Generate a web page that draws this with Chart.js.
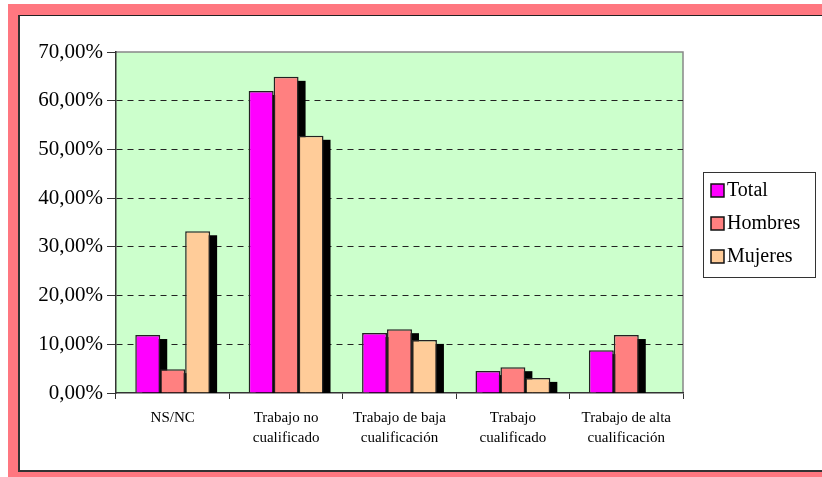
<!DOCTYPE html>
<html lang="es">

<head>
    <meta charset="UTF-8">
    <title>Cualificación</title>
    <style>
        body {
            margin: 0;
            width: 822px;
            height: 477px;
            overflow: hidden;
            background: #fff;
            position: relative;
        }

        #marco {
            position: absolute;
            left: 8px;
            top: 4px;
            right: 0;
            bottom: 0;
            background: #ff7780;
        }

        #hoja {
            position: absolute;
            left: 18px;
            top: 15px;
            right: 0;
            bottom: 5px;
            background: #fff;
            border-left: 2px solid #333;
            border-top: 1px solid #222;
            border-bottom: 2px solid #333;
        }

        canvas {
            position: absolute;
            left: 0;
            top: 0;
        }
    </style>
</head>

<body>
    <div id="marco"></div>
    <div id="hoja"></div>
    <canvas id="myChart" width="822" height="477"></canvas>

    <script src="https://cdn.jsdelivr.net/npm/chart.js"></script>

    <script>
        const categorias = [
            'NS/NC',
            ['Trabajo no', 'cualificado'],
            ['Trabajo de baja', 'cualificación'],
            ['Trabajo', 'cualificado'],
            ['Trabajo de alta', 'cualificación']
        ]
        const total = [11.9, 62.0, 12.3, 4.5, 8.8]
        const hombres = [4.9, 64.9, 13.1, 5.3, 11.9]
        const mujeres = [33.2, 52.8, 10.9, 3.1, 0]
        const ticksY = [0, 10, 20, 30, 40, 50, 60, 70]

        const fuente = 'Liberation Serif'

        // fondo verde del area de datos
        const fondo = {
            id: 'fondo',
            beforeDraw(chart) {
                const a = chart.chartArea, c = chart.ctx
                c.save()
                c.fillStyle = '#ccffcc'
                c.fillRect(a.left, a.top, a.right - a.left, a.bottom - a.top)
                c.strokeStyle = '#888'
                c.lineWidth = 1.5
                c.beginPath()
                c.moveTo(a.left, a.top)
                c.lineTo(a.right, a.top)
                c.lineTo(a.right, a.bottom)
                c.stroke()
                c.restore()
            }
        }

        // sombra negra detras de cada barra
        const sombra = {
            id: 'sombra',
            beforeDatasetsDraw(chart) {
                const a = chart.chartArea, c = chart.ctx
                c.save()
                c.beginPath()
                c.rect(a.left, a.top, a.right - a.left, a.bottom - a.top)
                c.clip()
                c.fillStyle = '#000'
                chart.data.datasets.forEach((ds, i) => {
                    chart.getDatasetMeta(i).data.forEach(bar => {
                        const h = bar.base - bar.y
                        if (h <= 0) return
                        c.fillRect(bar.x - bar.width / 2 + 7, bar.y + 4, bar.width, h)
                    })
                })
                c.restore()
            }
        }

        // leyenda con recuadro a la derecha
        const leyenda = {
            id: 'leyenda',
            afterDraw(chart) {
                const c = chart.ctx
                const x = chart.chartArea.right + 20, y = 172
                c.save()
                c.strokeStyle = '#333'
                c.lineWidth = 1
                c.strokeRect(x + 0.5, y + 0.5, 112, 105)
                c.font = '20px "' + fuente + '"'
                c.textBaseline = 'middle'
                chart.data.datasets.forEach((ds, i) => {
                    const cy = y + 19 + i * 33
                    c.fillStyle = ds.backgroundColor
                    c.fillRect(x + 8, cy - 7, 13, 13)
                    c.strokeStyle = '#111'
                    c.lineWidth = 1.5
                    c.strokeRect(x + 8, cy - 7, 13, 13)
                    c.fillStyle = '#000'
                    c.fillText(ds.label, x + 24, cy)
                })
                c.restore()
            }
        }

        const ctx = document.getElementById('myChart');
        myChart = new Chart(ctx, {
            type: 'bar',
            data: {
                labels: categorias,
                datasets: [
                    { label: 'Total', data: total, backgroundColor: '#ff00ff' },
                    { label: 'Hombres', data: hombres, backgroundColor: '#ff8080' },
                    { label: 'Mujeres', data: mujeres, backgroundColor: '#ffcc99' }
                ]
            },
            options: {
                responsive: false,
                animation: false,
                categoryPercentage: 0.66,
                barPercentage: 1,
                borderColor: '#222',
                borderWidth: 1.5,
                borderSkipped: 'bottom',
                layout: { padding: { left: 20, right: 139, top: 52, bottom: 0 } },
                plugins: {
                    legend: { display: false },
                    tooltip: { enabled: false }
                },
                scales: {
                    x: {
                        afterFit(s) { s.height = 84 },
                        grid: {
                            offset: true,
                            drawOnChartArea: false,
                            drawTicks: true,
                            tickLength: 6,
                            color: '#333'
                        },
                        border: { color: '#333', width: 1.5 },
                        ticks: {
                            color: '#000',
                            padding: 9,
                            maxRotation: 0,
                            autoSkip: false,
                            font: { family: fuente, size: 15, lineHeight: 1.33 }
                        }
                    },
                    y: {
                        min: 0,
                        max: 70,
                        afterFit(s) { s.width = 96 },
                        afterBuildTicks(s) { s.ticks = ticksY.map(v => ({ value: v })) },
                        grid: {
                            color: (c) => (c.tick && c.tick.value > 0 && c.tick.value < 70) ? '#222' : 'rgba(0,0,0,0)',
                            tickColor: '#333',
                            tickLength: 9,
                            lineWidth: 1
                        },
                        border: { color: '#333', width: 1.5, dash: [6, 5] },
                        ticks: {
                            color: '#000',
                            padding: 4,
                            font: { family: fuente, size: 21 },
                            callback: v => v.toFixed(2).replace('.', ',') + '%'
                        }
                    }
                }
            },
            plugins: [fondo, sombra, leyenda]
        });
    </script>
</body>

</html>
